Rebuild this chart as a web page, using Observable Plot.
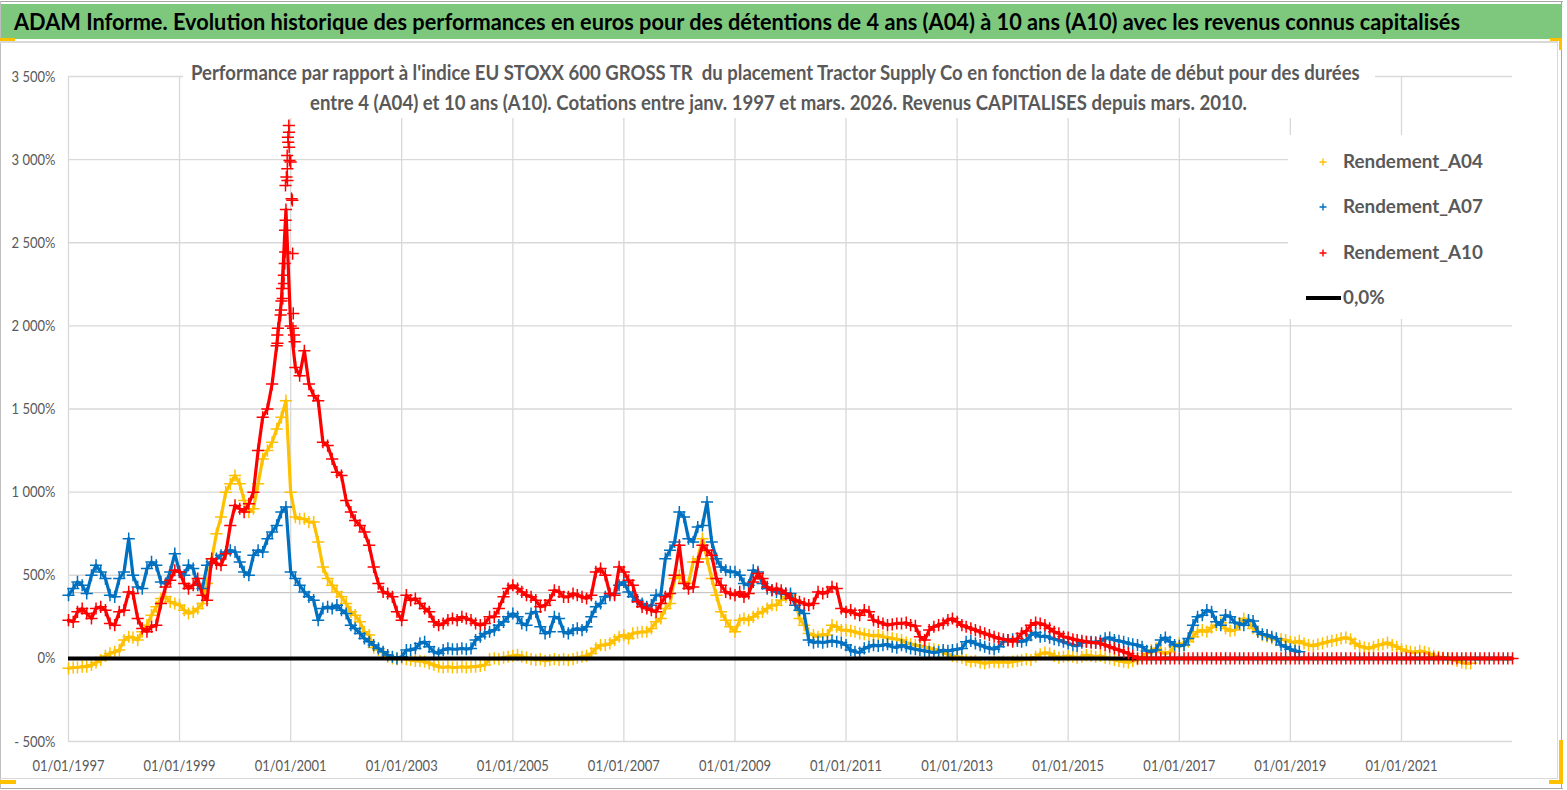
<!DOCTYPE html>
<html>
<head>
<meta charset="utf-8">
<script src="https://cdn.jsdelivr.net/npm/d3@7"></script>
<script src="https://cdn.jsdelivr.net/npm/@observablehq/plot@0.6"></script>
<style>
  html, body { margin: 0; padding: 0; background: #fff; }
  #wrap { position: relative; width: 1567px; height: 790px; overflow: hidden; background: #fff; font-family: Lato, "Open Sans", sans-serif; }
  #chart { position: absolute; left: 0; top: 0; }
  .abs { position: absolute; }
  .txt { position: absolute; white-space: nowrap; line-height: 1.2; transform-origin: 0 50%; }
  #titlebar { left: 0; top: 4px; width: 1562px; height: 35px; background: #7DC87D; }
  #subbox { left: 183px; top: 60px; width: 1192px; height: 58px; background: #fff; }
  #legend { left: 1288px; top: 135px; width: 224px; height: 184px; background: #fff; }
  .line { position: absolute; }
</style>
</head>
<body>
<div id="wrap">
  <div id="chart"></div>
  <div class="abs" id="titlebar"></div>
  <div class="abs" id="subbox"></div>
  <div class="abs" id="legend"></div>
</div>
<script>
// ---------------- DATA (monthly values, first value = January 1997) ----------------
const titleText = "ADAM Informe. Evolution historique des performances en euros pour des détentions de 4 ans (A04) à 10 ans (A10) avec les revenus connus capitalisés";
const subtitleLines = [
  "Performance par rapport à l'indice EU STOXX 600 GROSS TR\u00a0 du placement Tractor Supply Co en fonction de la date de début pour des durées",
  "entre 4 (A04) et 10 ans (A10). Cotations entre janv. 1997 et mars. 2026. Revenus CAPITALISES depuis mars. 2010."
];
const seriesNames = ["Rendement_A04", "Rendement_A07", "Rendement_A10"];
const seriesColors = ["#FFC000", "#0070C0", "#FF0000"];
const zeroLabel = "0,0%";

const A04 = [
  -60,-55,-55,-50,-50,-40,-25,-10,15,30,40,50,            // 1997
  110,130,125,110,160,200,260,310,360,370,340,330,        // 1998
  320,290,270,280,300,330,450,600,750,850,1000,1050,      // 1999
  1100,1050,950,880,900,1050,1200,1250,1300,1380,1450,1550, // 2000
  1000,850,840,840,820,820,700,550,480,440,400,370,       // 2001
  330,280,260,220,160,140,65,50,35,10,0,-5,               // 2002
  0,-5,-10,-15,-15,-20,-30,-40,-50,-55,-50,-55,           // 2003
  -55,-50,-55,-50,-50,-45,-40,-5,0,-5,5,10,               // 2004
  15,20,10,5,-5,-10,-5,-15,-10,-5,-10,-5,                 // 2005
  -10,-5,5,10,15,30,60,80,80,90,110,130,                  // 2006
  140,120,150,155,160,160,180,220,240,300,330,480,        // 2007
  500,460,450,580,600,720,600,480,380,280,230,190,        // 2008
  160,230,240,230,250,270,280,300,320,320,350,370,        // 2009
  380,350,240,200,150,140,130,145,140,200,190,170,        // 2010
  170,165,160,150,145,140,135,140,130,125,120,115,        // 2011
  110,95,85,80,75,70,60,55,50,35,25,15,                   // 2012
  10,5,-10,-20,-15,-25,-30,-25,-20,-25,-20,-25,           // 2013
  -20,-15,-10,-5,-10,10,25,35,30,15,5,10,                 // 2014
  15,10,5,10,20,15,10,15,5,0,-10,-15,                     // 2015
  -20,-25,-15,-5,10,30,50,60,40,30,40,70,                 // 2016
  90,80,100,130,160,170,160,185,200,215,180,165,          // 2017
  170,210,240,220,180,160,140,130,120,110,115,110,        // 2018
  100,95,105,90,80,75,85,90,100,105,110,120,              // 2019
  125,115,90,75,65,60,70,80,85,95,80,70,                  // 2020
  55,45,40,35,45,40,30,15,10,5,0,-5,                      // 2021
  -15,-25,-30,-30                                         // 2022
];

const A07 = [
  380,420,460,440,390,500,560,520,480,380,370,480,        // 1997
  520,720,500,430,420,540,580,560,460,450,520,630,        // 1998
  520,500,560,540,440,420,560,580,600,620,640,650,        // 1999
  640,580,520,500,620,650,640,720,760,800,880,910,        // 2000
  520,480,440,400,370,350,230,300,310,300,320,290,        // 2001
  270,200,180,150,120,100,80,60,40,20,10,0,               // 2002
  10,50,50,60,90,100,70,40,30,50,60,55,                   // 2003
  55,60,55,60,110,130,150,160,170,200,220,250,            // 2004
  270,250,210,200,270,280,190,150,160,250,240,160,        // 2005
  150,170,180,170,190,250,310,330,370,380,390,440,        // 2006
  460,400,370,350,330,310,320,380,380,600,650,700,        // 2007
  880,850,720,700,790,800,940,700,600,550,530,520,        // 2008
  520,500,450,440,530,520,450,420,410,400,390,390,        // 2009
  390,320,290,270,110,95,100,95,100,105,100,95,           // 2010
  80,50,40,35,60,70,80,75,80,85,70,65,                    // 2011
  80,70,60,55,50,45,40,35,40,50,45,50,                    // 2012
  55,60,100,105,90,80,70,60,55,70,100,110,                // 2013
  115,105,100,110,140,155,130,135,125,115,110,100,        // 2014
  90,80,75,95,100,100,95,105,120,125,110,105,             // 2015
  100,90,85,80,70,45,40,50,110,125,100,80,                // 2016
  75,80,120,200,250,260,290,280,220,200,260,250,          // 2017
  215,210,200,230,225,160,145,140,130,120,80,70,          // 2018
  55,45,40                                                // 2019
];

const A10 = [
  230,220,280,300,270,240,300,310,290,210,200,280,        // 1997
  290,400,390,240,180,160,190,200,330,430,470,530,        // 1998
  520,450,420,440,480,380,350,600,570,560,630,800,        // 1999
  920,900,880,930,1000,1250,1450,1500,1650,1880,2150,2700, // 2000
  2000,1750,1700,1850,1650,1580,1550,1300,1280,1200,1120,1100, // 2001
  950,880,830,800,760,680,550,450,400,390,370,280,        // 2002
  230,380,350,360,330,300,280,220,200,210,230,240,        // 2003
  230,250,240,230,210,200,210,250,250,300,370,420,        // 2004
  440,420,400,380,370,350,310,320,350,410,400,370,        // 2005
  370,390,380,370,360,380,520,540,500,390,380,550,        // 2006
  520,470,440,340,310,300,290,280,330,370,390,500,        // 2007
  680,450,420,430,580,680,650,620,480,440,400,390,        // 2008
  380,400,370,390,460,510,480,430,410,420,410,390,        // 2009
  360,350,340,330,320,330,400,390,400,430,420,300,        // 2010
  280,290,270,260,290,280,230,220,210,200,205,210,        // 2011
  210,215,200,195,130,110,170,190,200,210,230,240,        // 2012
  220,200,190,180,170,160,150,140,130,120,115,110,        // 2013
  100,120,150,165,200,215,210,200,180,160,150,130,        // 2014
  125,115,110,105,100,95,95,90,80,70,60,50,               // 2015
  40,30,15,0,0,0,0,0,0,0,0,0,                             // 2016
  0,0,0,0,0,0,0,0,0,0,0,0,                                // 2017
  0,0,0,0,0,0,0,0,0,0,0,0,                                // 2018
  0,0,0,0,0,0,0,0,0,0,0,0,                                // 2019
  0,0,0,0,0,0,0,0,0,0,0,0,                                // 2020
  0,0,0,0,0,0,0,0,0,0,0,0,                                // 2021
  0,0,0,0,0,0,0,0,0,0,0,0,                                // 2022
  0                                                       // 2023
];

// Isolated A10 points of the late-2000 peak, read individually
const A10_peakDates = ["2000-12-20","2000-12-21","2000-12-14","2000-12-16","2000-12-22","2000-12-09","2000-12-24",
  "2001-01-01","2000-12-10","2000-12-04","2000-12-11","2000-11-28","2001-01-07","2001-01-12","2000-11-29",
  "2000-11-25","2001-01-14","2000-11-26","2000-11-23","2000-11-17","2000-11-18","2000-11-06","2000-11-10",
  "2000-10-30","2000-10-27","2001-01-18","2000-10-09","2000-10-05","2000-10-06","2001-01-16","2001-01-23","2001-01-27"];
const A10_peakValues = [3205,3165,3135,3105,3075,3025,2995,2985,2945,2895,2875,2845,2765,2755,2635,
  2575,2435,2445,2375,2305,2255,2225,2165,2095,2065,2075,1985,1945,1895,1985,1945,1905];

const yTicks = [-500, 0, 500, 1000, 1500, 2000, 2500, 3000, 3500];
const xTickYears = [1997, 1999, 2001, 2003, 2005, 2007, 2009, 2011, 2013, 2015, 2017, 2019, 2021];
const xDomainYears = [1997, 2023];
const refLine = 395; // light reference line near 400 %

// ---------------- BUILD ----------------
const FAMILY = 'Lato, "Open Sans", sans-serif';
const monthly = arr => arr.map((v, i) => ({date: new Date(Date.UTC(1997, i, 1)), v}));
const d04 = monthly(A04);
const d07 = monthly(A07);
const d10 = monthly(A10);
const d10peak = A10_peakDates.map((s, i) => ({date: new Date(s + "T00:00:00Z"), v: A10_peakValues[i]}));

const xTicks = xTickYears.map(y => new Date(Date.UTC(y, 0, 1)));
const fmtPct = d => {
  const a = Math.abs(d);
  const s = a >= 1000 ? Math.floor(a / 1000) + " " + String(a % 1000).padStart(3, "0") : String(a);
  return (d < 0 ? "- " : "") + s + "%";
};

const lineOpts = c => ({x: "date", y: "v", stroke: c, strokeWidth: 3.2, strokeLinejoin: "round", strokeLinecap: "round"});
const plusOpts = c => ({x: "date", y: "v", symbol: "plus", r: 4, stroke: c, strokeWidth: 1.5});

const chart = Plot.plot({
  width: 1567,
  height: 790,
  marginLeft: 68,
  marginRight: 55,
  marginTop: 76,
  marginBottom: 49,
  style: {fontFamily: FAMILY, fontSize: "15.8px", color: "#595959", background: "transparent", overflow: "visible"},
  x: {type: "utc", domain: xDomainYears.map(y => new Date(Date.UTC(y, 0, 1)))},
  y: {domain: [yTicks[0], yTicks[yTicks.length - 1]]},
  marks: [
    Plot.gridY({ticks: yTicks, stroke: "#d9d9d9", strokeOpacity: 1, strokeWidth: 1.3}),
    Plot.gridX({ticks: xTicks, stroke: "#d9d9d9", strokeOpacity: 1, strokeWidth: 1.3}),
    Plot.ruleY([refLine], {stroke: "#c8c8c8", strokeWidth: 1.3}),
    Plot.axisY({ticks: yTicks, tickFormat: fmtPct, tickSize: 0, tickPadding: 13, label: null, fill: "#595959"}),
    Plot.axisX({ticks: xTicks, tickFormat: d => "01/01/" + d.getUTCFullYear(), tickSize: 0, tickPadding: 18, label: null, fill: "#595959"}),
    Plot.line(d04, lineOpts(seriesColors[0])),
    Plot.dot(d04, plusOpts(seriesColors[0])),
    Plot.line(d07, lineOpts(seriesColors[1])),
    Plot.dot(d07, plusOpts(seriesColors[1])),
    Plot.ruleY([0], {stroke: "#000", strokeWidth: 4}),
    Plot.line(d10, lineOpts(seriesColors[2])),
    Plot.dot(d10, plusOpts(seriesColors[2])),
    Plot.dot(d10peak, plusOpts(seriesColors[2]))
  ]
});
document.getElementById("chart").appendChild(chart);

// squeeze SVG tick labels horizontally (reference font is narrow), keeping their anchor point
function squeeze(label, sample, target) {
  const texts = chart.querySelectorAll(`g[aria-label="${label}"] text`);
  let k = 1;
  texts.forEach(t => { if (t.textContent === sample) k = target / t.getComputedTextLength(); });
  texts.forEach(t => {
    const tr = t.getAttribute("transform");
    if (tr) {
      t.setAttribute("transform", `${tr} scale(${k.toFixed(4)},1)`);
    } else {
      const x = +t.getAttribute("x") || 0;
      t.setAttribute("transform", `translate(${x},0) scale(${k.toFixed(4)},1)`);
      t.removeAttribute("x");
    }
  });
}
squeeze("y-axis tick label", "3 500%", 44);
squeeze("x-axis tick label", "01/01/1997", 72);

// ---------------- HTML TEXTS ----------------
const wrap = document.getElementById("wrap");
function addText(str, {left, cy, size, weight = "bold", color = "#595959", width = null, k = null}) {
  const el = document.createElement("div");
  el.className = "txt";
  el.textContent = str;
  el.style.fontSize = size + "px";
  el.style.fontWeight = weight;
  el.style.color = color;
  el.style.left = left + "px";
  el.style.top = (cy - 0.629 * size) + "px";
  wrap.appendChild(el);
  const kk = k != null ? k : width / el.offsetWidth;
  el.style.transform = `scaleX(${kk.toFixed(4)})`;
  return kk;
}
addText(titleText, {left: 14, cy: 22, size: 22.5, color: "#000", width: 1446});
addText(subtitleLines[0], {left: 191, cy: 73.5, size: 21.5, width: 1169});
addText(subtitleLines[1], {left: 310, cy: 103.5, size: 21.5, width: 937});

// ---------------- LEGEND ----------------
const legY = [161.5, 206.7, 252.7];
let kLeg = null;
seriesNames.forEach((name, i) => {
  const s = document.createElementNS("http://www.w3.org/2000/svg", "svg");
  s.setAttribute("width", 10); s.setAttribute("height", 10);
  s.style.position = "absolute"; s.style.left = "1318px"; s.style.top = (legY[i] - 5) + "px";
  s.innerHTML = `<path d="M5,1.5V8.5M1.5,5H8.5" stroke="${seriesColors[i]}" stroke-width="1.4"/>`;
  wrap.appendChild(s);
  const r = addText(name, {left: 1343, cy: legY[i], size: 19.5, width: kLeg == null ? 140 : null, k: kLeg});
  if (kLeg == null) kLeg = r;
});
const zl = document.createElement("div");
zl.className = "line"; zl.style.cssText = "left:1306px;top:296px;width:35px;height:4px;background:#000;";
wrap.appendChild(zl);
addText(zeroLabel, {left: 1343, cy: 297.5, size: 19.5, k: kLeg});

// ---------------- FRAME & HANDLES ----------------
const boxes = [
  [0, 1, 1563, 1, "#a6a6a6"], [1561, 1, 1, 788, "#a6a6a6"], [0, 788, 1563, 1, "#a6a6a6"], [0, 1, 1, 788, "#bfbfbf"],
  [0, 41, 1558, 2, "#d9d9d9"], [1557, 42, 1, 737, "#d9d9d9"], [0, 778, 1558, 1, "#d9d9d9"],
  [0, 38, 15, 3, "#FFC000"], [1550, 38, 12, 3, "#FFC000"], [1559, 38, 3, 12, "#FFC000"],
  [0, 780, 16, 4, "#FFC000"], [1559, 740, 4, 44, "#FFC000"], [1549, 780, 14, 4, "#FFC000"]
];
boxes.forEach(([l, t, w, h, c]) => {
  const d = document.createElement("div");
  d.className = "line";
  d.style.cssText = `left:${l}px;top:${t}px;width:${w}px;height:${h}px;background:${c};`;
  wrap.appendChild(d);
});
</script>
</body>
</html>
